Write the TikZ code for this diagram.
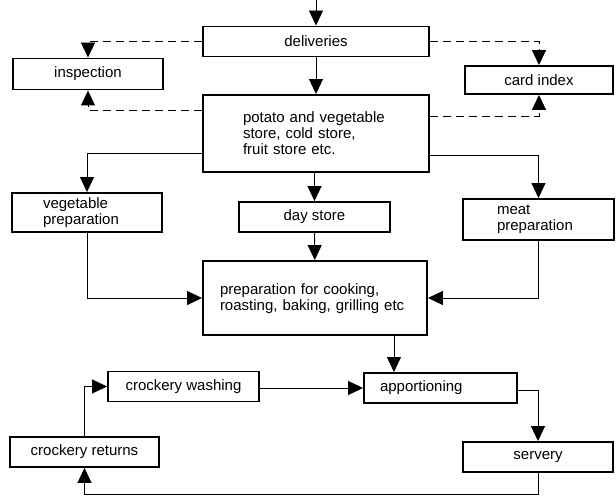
\documentclass[tikz,border=0pt]{standalone}
\usepackage{fontspec}
\setmainfont{Liberation Sans}
\usetikzlibrary{arrows.meta,positioning,calc}
\newcommand{\flowfont}{\fontsize{15}{16}\selectfont}
\tikzset{
  stage/.style={rectangle,draw=black,line width=1.9pt,minimum width=#1,
    minimum height=30pt,inner sep=2pt,font=\flowfont,align=center},
  stage/.default={150pt},
  flow/.style={-{Triangle[length=15pt,width=14pt]},line width=0.9pt},
  notice/.style={flow,dash pattern=on 8pt off 5pt},
}
\begin{document}
\begin{tikzpicture}[x=1pt,y=-1pt,
  leftbox/.style={align=left,text width=#1},
]
  \useasboundingbox (0,0) rectangle (616,497);
  % goods in
  \coordinate (entry) at (316,0);
  \node[stage=226pt] (deliv) at (316,41.5) {deliveries};
  \node[stage=150pt,minimum height=31pt] (insp) at (88,74) {inspection};
  \node[stage=148pt,minimum height=28pt] (card) at (539,80) {card index};
  \node[stage=226pt,minimum height=77pt,leftbox=146pt] (store) at (316,133.5) {
    potato and vegetable\\store, cold store,\\fruit store etc.};
  % preparation
  \node[stage=150pt,minimum height=39pt,leftbox=88pt] (veg) at (87,212.5) {
    vegetable\\preparation};
  \node[stage=151pt] (day) at (314.5,217) {day store};
  \node[stage=151pt,minimum height=41pt,leftbox=83pt] (meat) at (538.5,219.5) {
    meat\\preparation};
  \node[stage=224pt,minimum height=74pt,leftbox=190pt,text depth=18pt] (cook) at (315,298) {
    preparation for cooking,\\roasting, baking, grilling etc};
  % service and crockery
  \node[stage=153pt,leftbox=121pt] (portion) at (440.5,388) {apportioning};
  \node[stage=151pt] (wash) at (183.5,386.5) {crockery washing};
  \node[stage=149pt] (ret) at (84.5,452) {crockery returns};
  \node[stage=150pt] (serv) at (538,457) {servery};

  \draw[flow] (entry) -- (deliv.north);
  \draw[flow] (deliv) -- (store);
  \draw[notice] (deliv.west) -| (insp.north);
  \draw[notice] (deliv.east) -| (card.north);
  \draw[notice] ([yshift=-16pt]store.north west) -| (insp.south);
  \draw[notice] ([yshift=-22pt]store.north east) -| (card.south);
  \draw[flow] ([yshift=19pt]store.south west) -| (veg.north);
  \draw[flow] ([yshift=17pt]store.south east) -| (meat.north);
  \draw[flow] (store.south -| day.north) -- (day.north);
  \draw[flow] (day) -- (cook);
  \draw[flow] (veg.south) |- (cook.west);
  \draw[flow] (meat.south) |- (cook.east);
  \draw[flow] ([xshift=-34pt]cook.south east) -- ([xshift=-34pt]cook.south east |- portion.north);
  \draw[flow] (portion.west -| wash.east) -- (portion.west);
  \draw[flow] ([yshift=-2pt]portion.east) -| (serv.north);
  \draw[flow] (serv.south) -- ++(0,21) -| (ret.south);
  \draw[flow] (ret.north) |- (wash.west);
\end{tikzpicture}
\end{document}
